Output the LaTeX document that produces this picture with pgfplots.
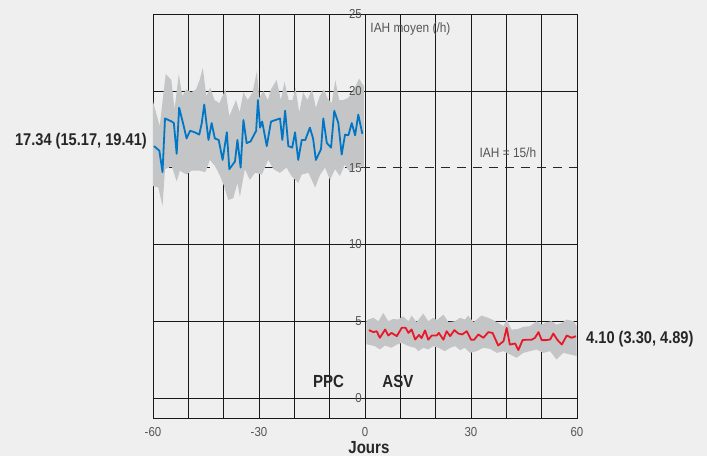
\documentclass[border=0pt]{standalone}
\usepackage{fontspec}
\setmainfont{Liberation Sans}[FakeStretch=0.88]
\newfontfamily\condfont{Liberation Sans}[FakeStretch=0.86]
\usepackage{pgfplots}
\pgfplotsset{compat=1.18}
\definecolor{bg}{RGB}{239,239,239}
\definecolor{bandgray}{RGB}{196,197,198}
\definecolor{blueline}{RGB}{0,118,196}
\definecolor{redline}{RGB}{232,24,40}
\definecolor{txtgray}{RGB}{85,85,85}
\begin{document}
\begin{tikzpicture}
\fill[bg] (-153pt,-38pt) rectangle (554pt,418pt);
% grid lines behind the axis content (axis is 424pt x 404pt, x -60..60, y -1.3..25)
\foreach \xp in {35.333,70.667,106,141.333,176.667,212,247.333,282.667,318,353.333,388.667}{
  \draw[black!90, line width=0.6pt] (\xp pt,0pt) -- (\xp pt,404pt);
}
\foreach \yp in {19.97,96.78,173.58,327.19}{
  \draw[black!90, line width=0.6pt] (0pt,\yp pt) -- (424pt,\yp pt);
}
\draw[black!85, line width=0.6pt, dash pattern=on 9pt off 7pt] (0pt,250.39pt) -- (424pt,250.39pt);
\begin{axis}[
  at={(0pt,0pt)}, anchor=south west,
  scale only axis, width=424pt, height=404pt,
  xmin=-60, xmax=60, ymin=-1.3, ymax=25,
  clip=false,
  xtick={-60,-30,0,30,60},
  xticklabels={-60,-30,0,30,60},
  ytick=\empty,
  major tick length=0pt,
  axis line style={black!90, line width=0.6pt},
  xticklabel style={font=\fontsize{13}{13}\selectfont, text=txtgray, yshift=-5.5pt},
]
% blue band: upper bound (left to right), then lower bound (right to left)
\addplot[fill=bandgray, fill opacity=1, draw=none, forget plot] table {
-60 19.3
-58.1 17.7
-56.4 21.1
-54.8 20.7
-53.9 18.8
-52.7 21.1
-51.7 19.65
-50.6 20.1
-49.2 19.9
-47.8 20.1
-46.8 20.7
-45.9 21.5
-44.9 19.65
-43.8 20.2
-42.6 19.4
-41.2 19.2
-39.5 20.1
-38.4 18.35
-36.5 19.4
-35.5 18.6
-34.4 19.9
-33.2 19.4
-31.8 19.9
-30.6 21.3
-29.9 19.5
-28.8 20.0
-27.5 19.4
-26.6 20.1
-25.0 20.7
-23.8 19.4
-22.8 20.6
-21.6 19.4
-20.5 19.4
-19.7 20.2
-18.6 18.6
-17.5 19.9
-16.3 19.4
-15.0 20.1
-13.9 18.9
-12.8 19.65
-11.6 20.1
-10.6 19.5
-9.4 19.2
-8.4 20.7
-7.3 19.4
-6.2 19.4
-5.0 19.5
-3.6 19.8
-1.7 20.8
-0.9 20.5
-0.3 20.3
-0.3 15.0
-0.9 15.1
-2.8 15.0
-4.2 14.66
-5.7 15.2
-7.1 14.45
-8.5 14.9
-9.9 14.2
-11.3 15.0
-12.7 14.55
-14.1 13.7
-16.0 14.66
-17.9 14.55
-18.9 14.0
-20.8 14.45
-22.2 15.0
-24.1 14.66
-25.9 14.9
-27.4 15.5
-29.2 14.55
-31.1 14.66
-32.6 14.2
-34.0 14.9
-35.4 13.1
-36.1 14.0
-37.3 13.0
-38.7 12.9
-39.9 13.8
-41.0 14.45
-42.45 15.1
-43.9 15.5
-45.2 14.7
-46.7 14.8
-49.1 14.8
-50.5 14.55
-52.4 14.8
-53.3 14.1
-54.7 15.1
-56.6 14.9
-57.3 12.5
-58.5 13.7
-60 13.8
};
% red band: upper bound, then lower bound reversed
\addplot[fill=bandgray, fill opacity=1, draw=none, forget plot] table {
0.4 5.0
0.9 5.11
2.4 5.22
3.8 5.0
5.2 5.54
6.6 5.0
8.0 5.15
9.4 5.11
10.8 5.32
12.3 5.0
13.2 5.37
14.6 4.94
16.5 5.5
17.9 5.0
19.3 5.22
20.3 5.07
22.2 5.43
23.6 4.94
25.5 5.0
26.9 5.22
28.3 5.11
29.2 5.37
30.7 4.94
31.6 5.11
33.0 5.37
34.9 5.22
36.3 5.07
37.7 4.89
39.2 4.68
40.1 5.11
41.5 4.45
43.4 4.5
44.8 4.63
46.7 4.68
48.6 5.0
50.0 4.78
51.4 4.94
52.8 5.0
54.2 4.78
55.7 4.89
57.1 5.11
59.0 5.0
59.9 4.68
59.9 2.73
58.0 2.84
56.1 2.94
54.2 2.51
52.4 3.05
50.5 2.94
48.6 3.16
46.7 3.05
44.8 2.94
42.9 2.62
41.0 2.84
39.2 3.05
37.3 2.94
35.4 3.2
33.5 3.27
31.6 3.05
29.7 2.94
28.3 3.27
26.9 3.12
25.5 3.38
24.1 3.27
22.6 3.05
20.8 3.27
19.3 3.38
17.9 3.16
16.5 3.27
15.1 3.05
14.2 3.27
12.3 3.38
10.4 3.59
9.0 3.48
7.5 3.27
5.7 3.42
4.2 3.16
2.8 3.38
0.9 3.48
0.4 3.5
};
% blue mean
\addplot[blueline, line width=1.8pt, line join=round] table {
-59.7 16.4
-58.2 16.1
-57.3 14.7
-56.6 18.2
-54.7 18.0
-54.1 17.9
-53.3 15.9
-52.6 18.9
-51.4 17.8
-50.5 16.9
-49.5 17.4
-48.2 17.3
-46.9 17.15
-46.2 17.9
-45.5 19.1
-44.3 16.8
-43.4 17.9
-42.5 16.9
-41.4 16.8
-40.3 15.5
-39.1 17.3
-38.4 14.9
-36.8 15.4
-36.1 16.8
-35.2 15.0
-34.4 18.1
-33.5 16.6
-32.4 16.7
-30.8 17.4
-30.3 19.4
-29.7 17.6
-29.1 18.0
-27.8 16.4
-26.6 18.0
-25.3 18.1
-24.05 18.2
-23.4 16.8
-22.6 18.7
-21.7 16.4
-20.6 16.3
-19.8 17.3
-18.9 15.5
-17.9 16.8
-16.9 16.8
-15.6 17.6
-14.7 16.9
-13.9 15.5
-12.45 16.2
-11.8 18.2
-10.8 16.6
-9.6 16.3
-8.7 18.7
-7.55 17.9
-6.6 15.85
-5.65 17.15
-4.7 17.1
-3.75 17.9
-2.8 17.1
-1.9 18.45
-0.75 17.2
};
% red mean
\addplot[redline, line width=1.8pt, line join=round] table {
1.1 4.42
2.4 4.29
3.3 4.35
4.2 3.92
5.7 4.46
6.6 4.07
7.5 4.24
9.0 4.03
10.4 4.57
11.5 4.57
12.3 4.24
13.2 4.46
14.2 3.81
15.3 4.11
16.0 3.9
17.0 4.4
17.9 3.8
18.9 4.07
20.3 4.07
20.9 4.24
22.2 3.8
23.1 4.35
24.1 4.03
25.3 4.42
26.4 4.2
27.5 4.14
28.8 4.35
30.0 3.8
30.9 3.8
32.1 4.14
33.5 3.92
34.9 4.29
36.1 4.24
37.7 3.42
39.2 3.7
40.1 4.57
41.0 3.48
42.5 3.55
43.4 3.12
44.6 3.77
45.8 3.8
47.2 3.8
48.1 3.92
49.1 4.29
50.0 3.77
51.2 3.77
52.4 3.81
53.3 4.2
54.4 3.8
55.7 3.48
57.1 4.07
58.5 3.92
59.7 4.03
};
% y tick labels at x = 0
\pgfplotsinvokeforeach{0,5,10,15,20,25}{
  \node[anchor=east, inner sep=0pt, xshift=-3pt, text=txtgray, font=\fontsize{13}{13}\selectfont] at (axis cs:0,#1) {#1};
}
\node[anchor=base west, inner sep=0pt, yshift=-18pt, text=txtgray, font=\fontsize{13.5}{13.5}\selectfont] at (axis cs:1.5,25) {IAH moyen (/h)};
\node[anchor=base west, inner sep=0pt, yshift=10pt, text=txtgray, font=\fontsize{13.5}{13.5}\selectfont] at (axis cs:32.4,15) {IAH = 15/h};
\node[anchor=east, inner sep=0pt, xshift=-6pt, font=\condfont\bfseries\fontsize{17}{17}\selectfont, text=black!85] at (axis cs:-60,16.7) {17.34 (15.17, 19.41)};
\node[anchor=west, inner sep=0pt, xshift=9pt, font=\condfont\bfseries\fontsize{17}{17}\selectfont, text=black!85] at (axis cs:60,3.83) {4.10 (3.30, 4.89)};
\node[inner sep=0pt, font=\condfont\bfseries\fontsize{17.5}{17.5}\selectfont, text=black!85] at (axis cs:-10.3,1.05) {PPC};
\node[inner sep=0pt, font=\condfont\bfseries\fontsize{17.5}{17.5}\selectfont, text=black!85] at (axis cs:9.3,1.05) {ASV};
\node[anchor=base, inner sep=0pt, yshift=-35pt, font=\condfont\bfseries\fontsize{17.5}{17.5}\selectfont, text=black!85] at (axis cs:1.1,-1.3) {Jours};
\end{axis}
\pgfresetboundingbox
\path (-153pt,-38pt) rectangle (554pt,418pt);
\end{tikzpicture}
\end{document}
